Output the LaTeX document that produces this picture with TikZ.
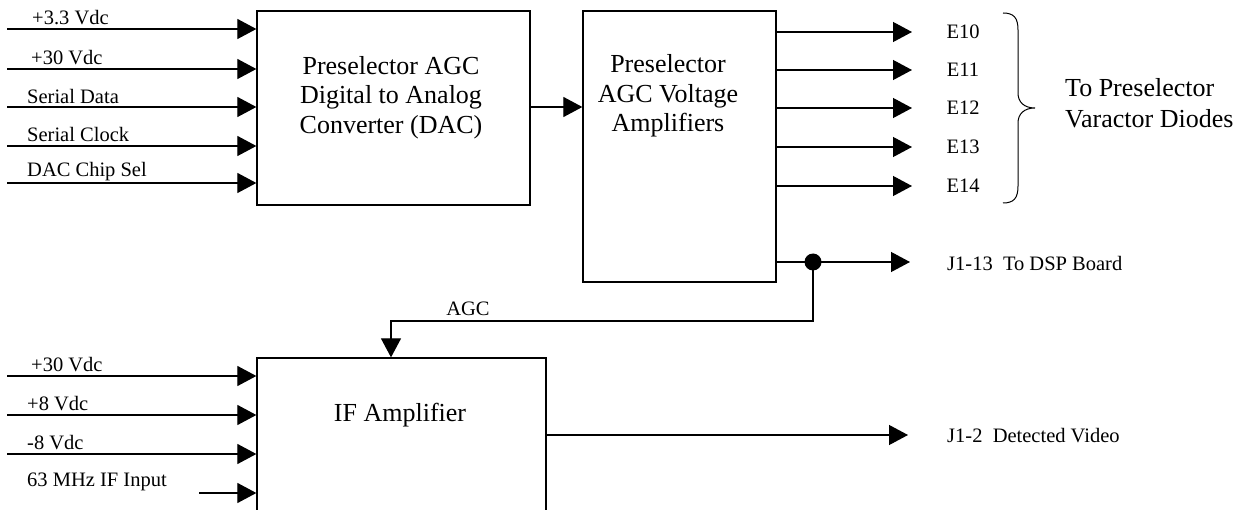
\documentclass[tikz,border=0pt]{standalone}
\usepackage{fontspec}
\setmainfont{Liberation Serif}
\usetikzlibrary{arrows.meta}
\tikzset{
  x=1pt, y=-1pt,
  wire/.style={line width=1.2pt, draw=black},
  arr/.style={wire, -{Triangle[length=19pt,width=20pt]}},
  blockbox/.style={draw=black, line width=1.3pt, inner sep=0pt, fill=white},
  small/.style={font=\fontsize{20.5}{24}\selectfont, inner sep=0pt},
  big/.style={font=\fontsize{26}{29.5}\selectfont, align=center, inner sep=0pt},
  side/.style={font=\fontsize{26}{31}\selectfont, align=left, inner sep=0pt},
}
\begin{document}
\begin{tikzpicture}
\useasboundingbox (0,0) rectangle (1250,510);
\clip (0,0) rectangle (1250,510);
\fill[white] (0,0) rectangle (1250,510);

% blocks
\node[blockbox, minimum width=273pt, minimum height=194pt] (dac) at (393.5,108) {};
\node[blockbox, minimum width=193pt, minimum height=271pt] (amp) at (679.5,146.5) {};
\node[blockbox, minimum width=289pt, minimum height=202pt] (ifa) at (401.5,459) {};

\node[big] (dact) at (391,97.5) {Preselector AGC\\Digital to Analog\\Converter (DAC)};
\node[big] (ampt) at (668,96) {Preselector\\AGC Voltage\\Amplifiers};
\node[big] (ifat) at (400,415) {IF Amplifier};

% DAC inputs
\foreach \n/\y in {1/29, 2/69, 3/107, 4/146, 5/183}{
  \coordinate (in\n) at (7,\y);
  \draw[arr] (in\n) -- (in\n -| dac.west);
}
\node[small, anchor=west] (l1) at (32,18) {+3.3 Vdc};
\node[small, anchor=west] (l2) at (31,58) {+30 Vdc};
\node[small, anchor=west] (l3) at (27,96) {Serial Data};
\node[small, anchor=west] (l4) at (27,134) {Serial Clock};
\node[small, anchor=west] (l5) at (27,172) {DAC Chip Sel};

% DAC -> amp
\coordinate (d2a) at (530,107);
\draw[arr] (d2a) -- (d2a -| amp.west);

% amp outputs
\foreach \n/\y/\t in {0/32/E10, 1/70/E11, 2/108/E12, 3/147/E13, 4/186/E14}{
  \coordinate (o\n) at (912,\y);
  \draw[arr] (o\n -| amp.east) -- (o\n);
  \node[small] (e\n) at (963,\y) {\t};
}

% brace
\draw[line width=1pt] (1003,13) .. controls (1014,13) and (1018,18) .. (1018,30) -- (1018,93)
  .. controls (1018,102) and (1024,108) .. (1035,108)
  .. controls (1024,108) and (1018,114) .. (1018,123) -- (1018,186)
  .. controls (1018,198) and (1014,203) .. (1003,203);
\node[side, anchor=west] (varac) at (1065,103) {To Preselector\\Varactor Diodes};

% J1-13
\coordinate (jdot) at (813,262);
\coordinate (j13) at (910,262);
\draw[wire] (jdot -| amp.east) -- (jdot);
\draw[arr] (jdot) -- (j13);
\fill (jdot) circle (8.5pt);
\node[small, anchor=west] (j13t) at (947,263) {J1-13\ \ To DSP Board};

% AGC feedback
\coordinate (agc1) at (813,321);
\coordinate (agc2) at (391,321);
\draw[arr] (jdot) -- (agc1) -- (agc2) -- (agc2 |- ifa.north);
\node[small] (agct) at (468,309) {AGC};

% IF inputs
\foreach \n/\x/\y in {1/7/376, 2/7/415, 3/7/454, 4/199/493}{
  \coordinate (if\n) at (\x,\y);
  \draw[arr] (if\n) -- (if\n -| ifa.west);
}
\node[small, anchor=west] (f1) at (31,365) {+30 Vdc};
\node[small, anchor=west] (f2) at (27,404) {+8 Vdc};
\node[small, anchor=west] (f3) at (27,443) {-8 Vdc};
\node[small, anchor=west] (f4) at (27,482) {63 MHz IF Input};

% IF output
\coordinate (vid) at (908,435);
\draw[arr] (vid -| ifa.east) -- (vid);
\node[small, anchor=west] (vidt) at (947,436) {J1-2\ \ Detected Video};
\end{tikzpicture}
\end{document}
